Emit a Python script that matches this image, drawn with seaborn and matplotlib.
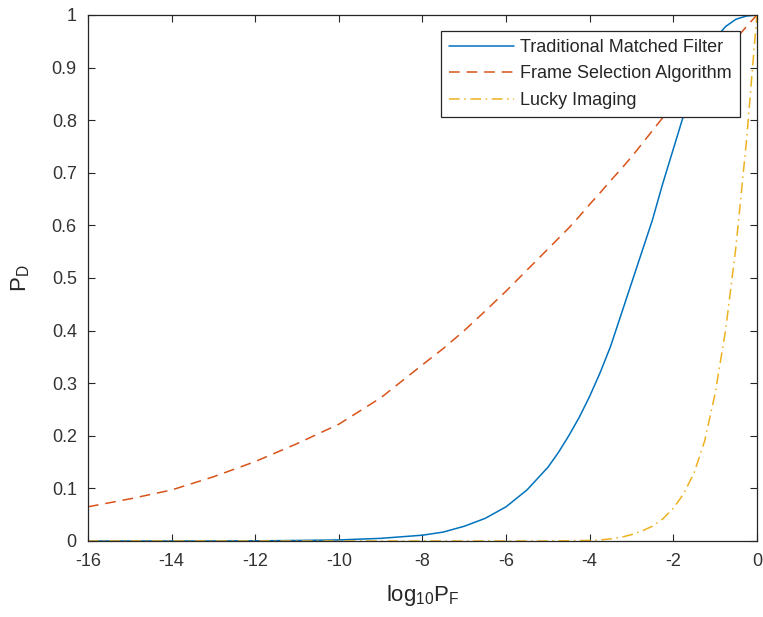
import pandas as pd
import matplotlib
matplotlib.use("Agg")
import matplotlib.pyplot as plt
import seaborn as sns

# values
log_pf = [-16, -15, -14, -13, -12, -11, -10, -9, -8, -7.5, -7, -6.5, -6, -5.5, -5,
          -4.75, -4.5, -4.25, -4, -3.75, -3.5, -3.25, -3, -2.75, -2.5, -2.25, -2,
          -1.75, -1.5, -1.25, -1, -0.75, -0.5, -0.25, 0]

matched_filter = [0, 0, 0, 0, 0.0003, 0.001, 0.002, 0.005, 0.011, 0.017, 0.028,
                  0.043, 0.065, 0.097, 0.14, 0.168, 0.2, 0.235, 0.275, 0.32, 0.37,
                  0.43, 0.49, 0.55, 0.61, 0.68, 0.745, 0.81, 0.87, 0.92, 0.955,
                  0.978, 0.992, 0.998, 1.0]

frame_selection = [0.065, 0.08, 0.097, 0.122, 0.151, 0.185, 0.222, 0.272, 0.335,
                   0.366, 0.40, 0.437, 0.475, 0.515, 0.555, 0.575, 0.595, 0.617,
                   0.64, 0.662, 0.685, 0.707, 0.73, 0.755, 0.78, 0.805, 0.83,
                   0.85, 0.87, 0.89, 0.91, 0.933, 0.955, 0.978, 1.0]

lucky_imaging = [0, 0, 0, 0, 0, 0, 0, 0, 0, 0, 0, 0, 0, 0, 0, 0.0003, 0.0005,
                 0.0008, 0.001, 0.002, 0.004, 0.007, 0.012, 0.019, 0.028, 0.042,
                 0.062, 0.09, 0.13, 0.19, 0.28, 0.40, 0.56, 0.76, 1.0]

series_names = ["Traditional Matched Filter", "Frame Selection Algorithm", "Lucky Imaging"]
x_ticks = [-16, -14, -12, -10, -8, -6, -4, -2, 0]
y_ticks = [0, 0.1, 0.2, 0.3, 0.4, 0.5, 0.6, 0.7, 0.8, 0.9, 1]
y_tick_labels = ["0", "0.1", "0.2", "0.3", "0.4", "0.5", "0.6", "0.7", "0.8", "0.9", "1"]

df = pd.DataFrame({"x": log_pf,
                   series_names[0]: matched_filter,
                   series_names[1]: frame_selection,
                   series_names[2]: lucky_imaging})

sns.set_style("white")
plt.rcParams["font.family"] = ["Liberation Sans", "DejaVu Sans"]
plt.rcParams["axes.unicode_minus"] = False

fig = plt.figure(figsize=(7.63, 6.17), dpi=100)
ax = fig.add_axes([0.1153, 0.1232, 0.8767, 0.8525])

colors = ["#0072BD", "#D95319", "#EDB120"]
dash_styles = [None, (7, 4.5), (7, 3, 1, 3)]

for name, c, d in zip(series_names, colors, dash_styles):
    sns.lineplot(data=df, x="x", y=name, ax=ax, color=c, linewidth=1.1, label=name)
    if d is not None:
        ax.lines[-1].set_dashes(d)

ax.set_xlim(-16, 0)
ax.set_ylim(0, 1)
ax.set_xticks(x_ticks)
ax.set_xticklabels([str(v) for v in x_ticks])
ax.set_yticks(y_ticks)
ax.set_yticklabels(y_tick_labels)
ax.tick_params(direction="in", length=5, width=0.8, colors="#262626",
               labelsize=13, top=True, right=True, bottom=True, left=True,
               labelcolor="#333333")
ax.tick_params(axis="x", pad=9)
ax.tick_params(axis="y", pad=8)
for s in ax.spines.values():
    s.set_color("#262626")
    s.set_linewidth(0.9)

ax.set_xlabel(r"$\mathregular{log_{10}P_F}$", fontsize=16, color="#262626", labelpad=9)
ax.set_ylabel(r"$\mathregular{P_D}$", fontsize=16, color="#262626", labelpad=14)

leg = ax.legend(loc="upper right", bbox_to_anchor=(0.9746, 0.9696), fancybox=False,
                framealpha=1, edgecolor="#262626", fontsize=13, handlelength=3.6,
                borderpad=0.45, labelspacing=0.52, handletextpad=0.35,
                borderaxespad=0)
leg.get_frame().set_linewidth(0.9)

fig.savefig("out.png", dpi=100)
